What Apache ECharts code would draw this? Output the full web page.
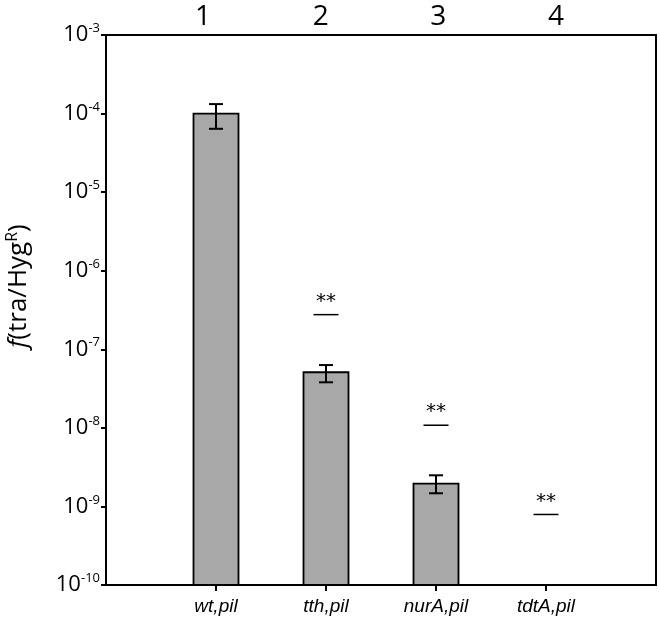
<!DOCTYPE html>
<html><head><meta charset="utf-8">
<script src="https://cdn.jsdelivr.net/npm/echarts@6/dist/echarts.min.js"></script>
<style>html,body{margin:0;padding:0;background:#fff}#c{width:660px;height:630px}</style>
</head><body><div id="c"></div>
<script>
const categories = ['wt,pil', 'tth,pil', 'nurA,pil', 'tdtA,pil'];
const topLabels = ['1', '2', '3', '4'];
const values = [1.0e-4, 5.1e-8, 1.95e-9, null];
const errLow = [6.4e-5, 3.8e-8, 1.47e-9, null];
const errHigh = [1.32e-4, 6.3e-8, 2.49e-9, null];
const sigLevel = [null, 2.76e-7, 1.08e-8, 7.9e-10];
const sigText = ['', '**', '**', '**'];
const yMin = 1e-10, yMax = 1e-3;

const chart = echarts.init(document.getElementById('c'));
const font = '"Open Sans", "Noto Sans", sans-serif';
const pos = categories.map((_, i) => i + 1);

chart.setOption({
  animation: false,
  grid: { left: 106, right: 4, top: 35, bottom: 45, outerBoundsMode: 'none', containLabel: false, show: true, borderColor: '#000', borderWidth: 2, backgroundColor: 'transparent' },
  xAxis: [{
    type: 'value', min: 0, max: 5, interval: 1,
    axisLine: { lineStyle: { color: '#000', width: 2 } },
    axisTick: { show: true, length: 6, lineStyle: { color: '#000', width: 2 }, customValues: pos },
    splitLine: { show: false },
    axisLabel: { customValues: pos, formatter: v => categories[v - 1] || '', fontFamily: 'Liberation Sans, Arial, sans-serif', fontStyle: 'italic', fontSize: 19, color: '#000', margin: 12 }
  }, {
    type: 'value', min: 0.176, max: 4.85, position: 'top',
    axisLine: { lineStyle: { color: '#000', width: 2 } },
    axisTick: { show: false },
    splitLine: { show: false },
    axisLabel: { customValues: pos, formatter: v => topLabels[Math.round(v) - 1] || '', fontFamily: font, fontSize: 28, color: '#000', margin: 4 }
  }],
  yAxis: {
    type: 'log', logBase: 10, min: yMin, max: yMax,
    axisLine: { show: true, lineStyle: { color: '#000', width: 2 } },
    axisTick: { show: true, length: 5, lineStyle: { color: '#000', width: 2 } },
    splitLine: { show: false },
    name: '{i|f}{n|(tra/Hyg}{s|R}{n|)}',
    nameLocation: 'middle', nameGap: 72, nameRotate: 90,
    nameTextStyle: {
      padding: [0, 0, 0, 48],
      rich: {
        i: { fontFamily: font, fontStyle: 'italic', fontSize: 26, color: '#000', lineHeight: 30 },
        n: { fontFamily: font, fontSize: 26, color: '#000', lineHeight: 30 },
        s: { fontFamily: font, fontSize: 16, color: '#000', verticalAlign: 'top', lineHeight: 16 }
      }
    },
    axisLabel: {
      margin: 6,
      formatter: v => '{b|10}{s|' + Math.round(Math.log10(v)) + '}',
      rich: {
        b: { fontFamily: font, fontSize: 22, color: '#000', lineHeight: 26 },
        s: { fontFamily: font, fontSize: 13, color: '#000', verticalAlign: 'top', lineHeight: 13 }
      }
    }
  },
  series: [{
    type: 'custom',
    data: pos.map((p, i) => [p, values[i]]).filter(d => d[1] != null),
    renderItem: (params, api) => {
      const x = api.value(0);
      const top = api.coord([x, api.value(1)]);
      const base = api.coord([x, yMin]);
      const w = 45;
      return { type: 'rect', shape: { x: top[0] - w / 2, y: top[1], width: w, height: base[1] - top[1] },
        style: { fill: '#a8a8a8', stroke: '#000', lineWidth: 1.8 } };
    },
    z: 2
  }, {
    type: 'custom',
    data: pos.map((p, i) => [p, errLow[i], errHigh[i]]).filter(d => d[1] != null),
    renderItem: (params, api) => {
      const x = api.value(0);
      const lo = api.coord([x, api.value(1)]);
      const hi = api.coord([x, api.value(2)]);
      const w = 7;
      const st = { stroke: '#000', lineWidth: 2 };
      return { type: 'group', children: [
        { type: 'line', shape: { x1: lo[0], y1: lo[1], x2: hi[0], y2: hi[1] }, style: st },
        { type: 'line', shape: { x1: hi[0] - w, y1: hi[1], x2: hi[0] + w, y2: hi[1] }, style: st },
        { type: 'line', shape: { x1: lo[0] - w, y1: lo[1], x2: lo[0] + w, y2: lo[1] }, style: st }
      ]};
    },
    z: 3
  }, {
    type: 'custom',
    data: pos.map((p, i) => [p, sigLevel[i], i]).filter(d => d[1] != null),
    renderItem: (params, api) => {
      const x = api.value(0);
      const c = api.coord([x, api.value(1)]);
      const idx = api.value(2);
      return { type: 'group', children: [
        { type: 'line', shape: { x1: c[0] - 12.5, y1: c[1], x2: c[0] + 12.5, y2: c[1] }, style: { stroke: '#000', lineWidth: 1.5 } },
        { type: 'text', x: c[0], y: c[1] - 3, style: { text: sigText[idx], fontFamily: 'DejaVu Sans, sans-serif', fontSize: 20, fill: '#000', align: 'center', verticalAlign: 'bottom' } }
      ]};
    },
    z: 3
  }]
});
</script></body></html>
